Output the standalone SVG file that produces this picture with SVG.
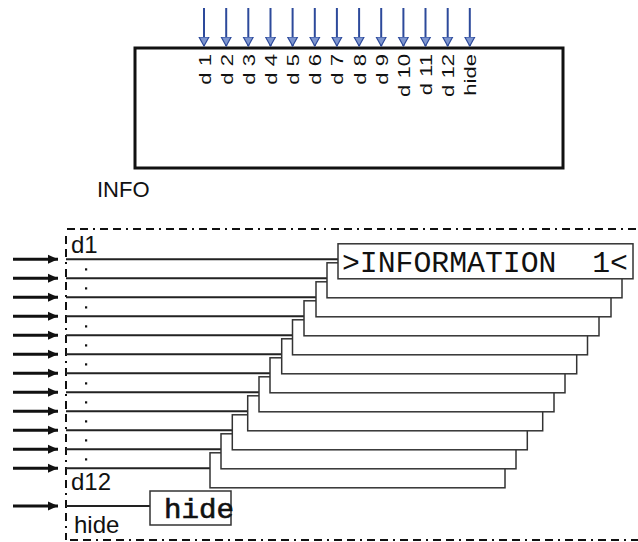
<svg xmlns="http://www.w3.org/2000/svg" width="638" height="542" viewBox="0 0 638 542">
<defs>
  <marker id="blueHead" viewBox="0 0 10 12" refX="9.5" refY="6" markerWidth="10" markerHeight="12" markerUnits="userSpaceOnUse" orient="auto">
    <path d="M0.5,1 L9.5,6 L0.5,11 Z" fill="#7d95cf" stroke="#2d4a9b" stroke-width="1.2"/>
  </marker>
  <marker id="blackHead" viewBox="0 0 10 10" refX="10" refY="5" markerWidth="10" markerHeight="10" markerUnits="userSpaceOnUse" orient="auto">
    <path d="M0,0.5 L10,5 L0,9.5 Z" fill="#111"/>
  </marker>
</defs>
<style>
  .blue { stroke: #2d4a9b; stroke-width: 2; fill: none; }
  .lbl { font-family: "Liberation Sans", Arial, sans-serif; font-size: 17px; fill: #111; }
  .big { font-family: "Liberation Sans", Arial, sans-serif; font-size: 24px; fill: #111; }
  .info { font-family: "Liberation Sans", Arial, sans-serif; font-size: 22px; fill: #111; }
  .mono { font-family: "Liberation Mono", "DejaVu Sans Mono", monospace; fill: #111; white-space: pre; }
  .dash { stroke: #111; stroke-width: 2; fill: none; stroke-dasharray: 8 5 8 5 2 5; }
  .inarrow { stroke: #111; stroke-width: 3; fill: none; }
  .wire { stroke: #222; stroke-width: 2; fill: none; }
  .box { stroke: #333; stroke-width: 1.5; fill: #fff; }
  .dot { fill: #111; }
</style>

<!-- Top block symbol -->
<g id="info-block">
  <rect x="135" y="48" width="428" height="120" fill="#fff" stroke="#111" stroke-width="3"/>
  <text class="info" x="97" y="197">INFO</text>
</g>

<g id="top-inputs">
  <line class="blue" x1="204" y1="8" x2="204" y2="46" marker-end="url(#blueHead)"/>
  <line class="blue" x1="226.2" y1="8" x2="226.2" y2="46" marker-end="url(#blueHead)"/>
  <line class="blue" x1="248.3" y1="8" x2="248.3" y2="46" marker-end="url(#blueHead)"/>
  <line class="blue" x1="270.5" y1="8" x2="270.5" y2="46" marker-end="url(#blueHead)"/>
  <line class="blue" x1="292.6" y1="8" x2="292.6" y2="46" marker-end="url(#blueHead)"/>
  <line class="blue" x1="314.8" y1="8" x2="314.8" y2="46" marker-end="url(#blueHead)"/>
  <line class="blue" x1="336.9" y1="8" x2="336.9" y2="46" marker-end="url(#blueHead)"/>
  <line class="blue" x1="359.1" y1="8" x2="359.1" y2="46" marker-end="url(#blueHead)"/>
  <line class="blue" x1="381.2" y1="8" x2="381.2" y2="46" marker-end="url(#blueHead)"/>
  <line class="blue" x1="403.4" y1="8" x2="403.4" y2="46" marker-end="url(#blueHead)"/>
  <line class="blue" x1="425.5" y1="8" x2="425.5" y2="46" marker-end="url(#blueHead)"/>
  <line class="blue" x1="447.7" y1="8" x2="447.7" y2="46" marker-end="url(#blueHead)"/>
  <line class="blue" x1="469.8" y1="8" x2="469.8" y2="46" marker-end="url(#blueHead)"/>
</g>

<g id="top-labels">
  <text class="lbl" text-anchor="end" transform="translate(210.5,54) rotate(-90) scale(1.3,1)">d 1</text>
  <text class="lbl" text-anchor="end" transform="translate(232.7,54) rotate(-90) scale(1.3,1)">d 2</text>
  <text class="lbl" text-anchor="end" transform="translate(254.8,54) rotate(-90) scale(1.3,1)">d 3</text>
  <text class="lbl" text-anchor="end" transform="translate(277,54) rotate(-90) scale(1.3,1)">d 4</text>
  <text class="lbl" text-anchor="end" transform="translate(299.1,54) rotate(-90) scale(1.3,1)">d 5</text>
  <text class="lbl" text-anchor="end" transform="translate(321.3,54) rotate(-90) scale(1.3,1)">d 6</text>
  <text class="lbl" text-anchor="end" transform="translate(343.4,54) rotate(-90) scale(1.3,1)">d 7</text>
  <text class="lbl" text-anchor="end" transform="translate(365.6,54) rotate(-90) scale(1.3,1)">d 8</text>
  <text class="lbl" text-anchor="end" transform="translate(387.7,54) rotate(-90) scale(1.3,1)">d 9</text>
  <text class="lbl" text-anchor="end" transform="translate(409.9,54) rotate(-90) scale(1.3,1)">d 10</text>
  <text class="lbl" text-anchor="end" transform="translate(432,54) rotate(-90) scale(1.3,1)">d 11</text>
  <text class="lbl" text-anchor="end" transform="translate(454.2,54) rotate(-90) scale(1.3,1)">d 12</text>
  <text class="lbl" text-anchor="end" transform="translate(476.3,54) rotate(-90) scale(1.3,1)">hide</text>
</g>

<!-- Lower detailed view -->
<g id="frame">
  <line class="dash" x1="67" y1="229" x2="638" y2="229"/>
  <line class="dash" x1="66" y1="236" x2="66" y2="540"/>
  <line class="dash" x1="70" y1="540" x2="638" y2="540"/>
</g>

<g id="connectors">
  <line class="inarrow" x1="13" y1="259.3" x2="58" y2="259.3" marker-end="url(#blackHead)"/>
  <line class="inarrow" x1="13" y1="278.3" x2="58" y2="278.3" marker-end="url(#blackHead)"/>
  <line class="inarrow" x1="13" y1="297.3" x2="58" y2="297.3" marker-end="url(#blackHead)"/>
  <line class="inarrow" x1="13" y1="316.3" x2="58" y2="316.3" marker-end="url(#blackHead)"/>
  <line class="inarrow" x1="13" y1="335.3" x2="58" y2="335.3" marker-end="url(#blackHead)"/>
  <line class="inarrow" x1="13" y1="354.3" x2="58" y2="354.3" marker-end="url(#blackHead)"/>
  <line class="inarrow" x1="13" y1="373.3" x2="58" y2="373.3" marker-end="url(#blackHead)"/>
  <line class="inarrow" x1="13" y1="392.3" x2="58" y2="392.3" marker-end="url(#blackHead)"/>
  <line class="inarrow" x1="13" y1="411.3" x2="58" y2="411.3" marker-end="url(#blackHead)"/>
  <line class="inarrow" x1="13" y1="430.3" x2="58" y2="430.3" marker-end="url(#blackHead)"/>
  <line class="inarrow" x1="13" y1="449.3" x2="58" y2="449.3" marker-end="url(#blackHead)"/>
  <line class="inarrow" x1="13" y1="468.3" x2="58" y2="468.3" marker-end="url(#blackHead)"/>
  <line class="inarrow" x1="13" y1="506" x2="58" y2="506" marker-end="url(#blackHead)"/>

  <line class="wire" x1="66" y1="259.3" x2="338" y2="259.3"/>
  <line class="wire" x1="66" y1="278.3" x2="327" y2="278.3"/>
  <line class="wire" x1="66" y1="297.3" x2="316" y2="297.3"/>
  <line class="wire" x1="66" y1="316.3" x2="304" y2="316.3"/>
  <line class="wire" x1="66" y1="335.3" x2="292.5" y2="335.3"/>
  <line class="wire" x1="66" y1="354.3" x2="281.7" y2="354.3"/>
  <line class="wire" x1="66" y1="373.3" x2="270" y2="373.3"/>
  <line class="wire" x1="66" y1="392.3" x2="259" y2="392.3"/>
  <line class="wire" x1="66" y1="411.3" x2="247.7" y2="411.3"/>
  <line class="wire" x1="66" y1="430.3" x2="232.3" y2="430.3"/>
  <line class="wire" x1="66" y1="449.3" x2="221" y2="449.3"/>
  <line class="wire" x1="66" y1="468.3" x2="210" y2="468.3"/>
  <line class="wire" x1="66" y1="506" x2="150" y2="506"/>
</g>

<g id="dots">
  <rect class="dot" x="85" y="268.3" width="2.2" height="2.2"/>
  <rect class="dot" x="85" y="287.3" width="2.2" height="2.2"/>
  <rect class="dot" x="85" y="306.3" width="2.2" height="2.2"/>
  <rect class="dot" x="85" y="325.3" width="2.2" height="2.2"/>
  <rect class="dot" x="85" y="344.3" width="2.2" height="2.2"/>
  <rect class="dot" x="85" y="363.3" width="2.2" height="2.2"/>
  <rect class="dot" x="85" y="382.3" width="2.2" height="2.2"/>
  <rect class="dot" x="85" y="401.3" width="2.2" height="2.2"/>
  <rect class="dot" x="85" y="420.3" width="2.2" height="2.2"/>
  <rect class="dot" x="85" y="439.3" width="2.2" height="2.2"/>
  <rect class="dot" x="85" y="458.3" width="2.2" height="2.2"/>
</g>

<g id="port-labels">
  <text class="big" x="71" y="253">d1</text>
  <text class="big" x="71" y="490">d12</text>
  <text class="big" x="74" y="533">hide</text>
</g>

<g id="info-stack">
  <rect class="box" x="210" y="452.8" width="295" height="35"/>
  <rect class="box" x="221" y="433.8" width="295" height="35"/>
  <rect class="box" x="232.3" y="414.8" width="295" height="35"/>
  <rect class="box" x="247.7" y="395.8" width="295" height="35"/>
  <rect class="box" x="259" y="376.8" width="295" height="35"/>
  <rect class="box" x="270" y="357.8" width="295" height="35"/>
  <rect class="box" x="281.7" y="338.8" width="295" height="35"/>
  <rect class="box" x="292.5" y="319.8" width="295" height="35"/>
  <rect class="box" x="304" y="300.8" width="295" height="35"/>
  <rect class="box" x="316" y="281.8" width="295" height="35"/>
  <rect class="box" x="327" y="262.8" width="295" height="35"/>
  <g id="info-display">
    <rect class="box" x="338" y="243.8" width="295" height="35"/>
    <text class="mono" x="342" y="272" font-size="29.5" textLength="286" lengthAdjust="spacingAndGlyphs">&gt;INFORMATION  1&lt;</text>
  </g>
</g>

<g id="hide-block">
  <rect class="box" x="150" y="491" width="81" height="34"/>
  <text class="mono" x="164" y="518" font-size="27" textLength="70" lengthAdjust="spacingAndGlyphs" stroke="#111" stroke-width="0.6">hide</text>
</g>
</svg>
